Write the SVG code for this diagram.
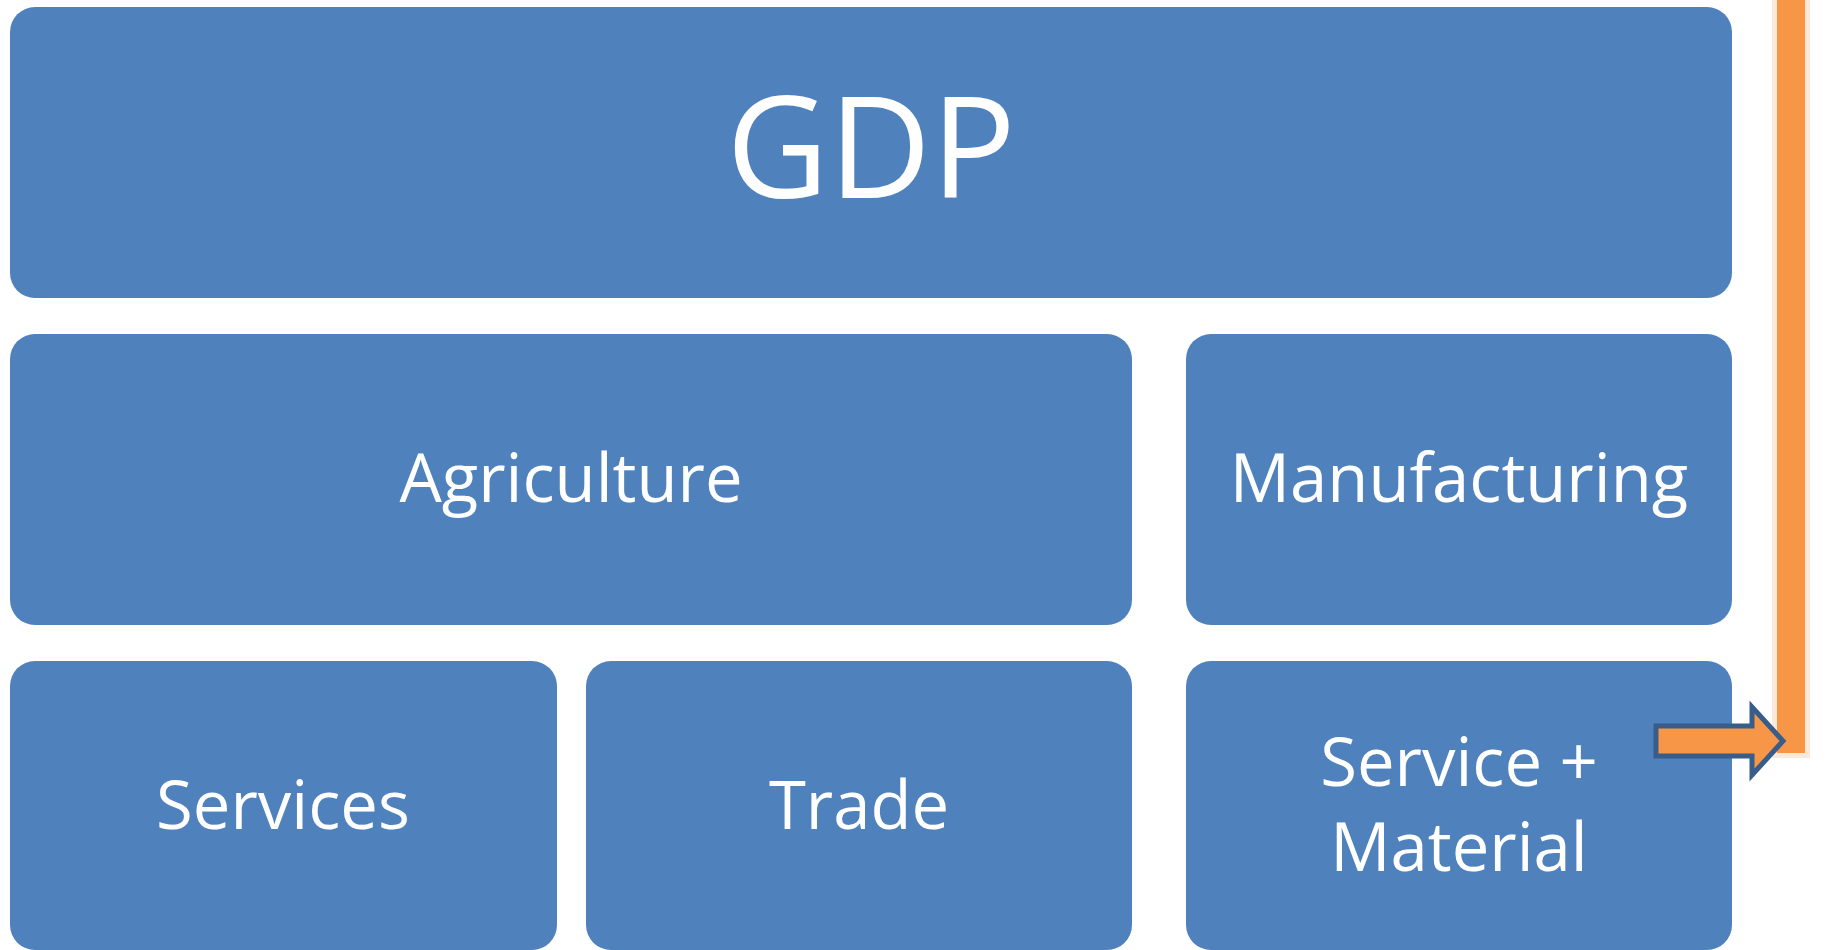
<svg xmlns="http://www.w3.org/2000/svg" width="1826" height="950" viewBox="0 0 1826 950">
<style>
.box{fill:#4F81BD;}
.t{fill:#FFFFFF;font-family:"Open Sans","Liberation Sans",sans-serif;text-anchor:middle;}
.m{font-size:67px;}
</style>
<rect width="1826" height="950" fill="#FFFFFF"/>
<g id="gdp"><rect class="box" x="10" y="7" width="1722" height="291" rx="25"/><text class="t" x="871" y="198" font-size="141">GDP</text></g>
<g id="agriculture"><rect class="box" x="10" y="334" width="1122" height="291" rx="25"/><text class="t m" x="571" y="502">Agriculture</text></g>
<g id="manufacturing"><rect class="box" x="1186" y="334" width="546" height="291" rx="25"/><text class="t m" x="1459" y="502">Manufacturing</text></g>
<g id="services"><rect class="box" x="10" y="661" width="547" height="289" rx="25"/><text class="t m" x="283" y="829">Services</text></g>
<g id="trade"><rect class="box" x="586" y="661" width="546" height="289" rx="25"/><text class="t m" x="859" y="829">Trade</text></g>
<g id="service-material"><rect class="box" x="1186" y="661" width="546" height="289" rx="25"/><text class="t m" x="1459" y="786">Service +</text><text class="t m" x="1459" y="871">Material</text></g>
<g id="connectors">
<rect x="1772" y="0" width="38" height="758" fill="#FDE9DA"/>
<rect x="1777" y="0" width="28" height="753" fill="#F79646"/>
<polygon points="1656,726 1752,726 1752,707 1783,741 1752,775 1752,756 1656,756" fill="#F79646" stroke="#385D8A" stroke-width="5"/>
</g>
</svg>
